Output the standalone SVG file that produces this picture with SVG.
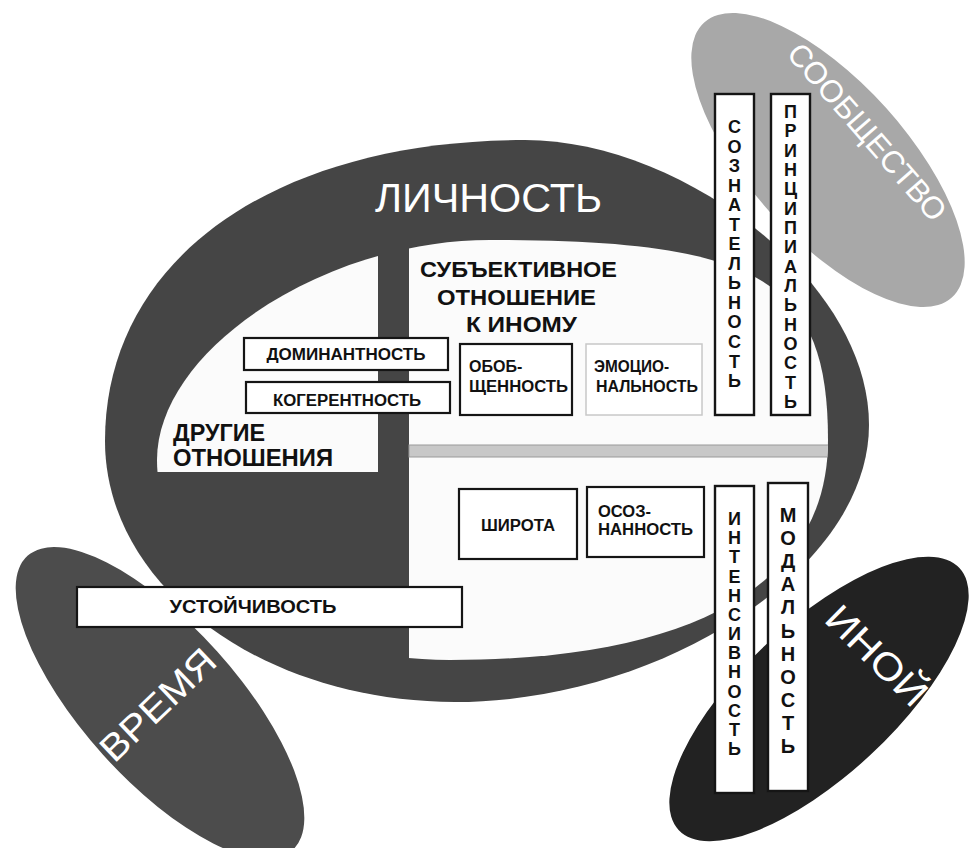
<svg xmlns="http://www.w3.org/2000/svg" width="971" height="848" viewBox="0 0 971 848">
<style>
  .lbl { font-family: "Liberation Sans", Arial, sans-serif; font-weight: bold; fill: #111; }
  .big { font-family: "Liberation Sans", Arial, sans-serif; fill: #ffffff; }
  .box { fill: #ffffff; stroke: #151515; stroke-width: 2.2; }
  .bar { fill: #ffffff; stroke: #151515; stroke-width: 2.4; }
  .vt { font-family: "Liberation Sans", Arial, sans-serif; font-weight: bold; fill: #111; text-anchor: middle; }
  .white { fill: #fbfbfb; }
</style>
<defs>
  <clipPath id="innerClip">
    <path d="M 157,460 C 157,350 323.5,240 490,240 C 760,240 828,280 828,440 C 828,583 696,660 450,660 C 289,660 157,570 157,460 Z"/>
  </clipPath>
</defs>
<rect width="971" height="848" fill="#ffffff"/>

<g id="soobshchestvo">
  <ellipse cx="828" cy="160" rx="185" ry="78" transform="rotate(48 828 160)" fill="#a8a8a8"/>
  <text class="big" font-size="31" text-anchor="middle" transform="translate(859,139) rotate(49)">СООБЩЕСТВО</text>
</g>

<g id="vremya">
  <ellipse cx="160" cy="703" rx="198" ry="77" transform="rotate(48 160 703)" fill="#4c4c4c"/>
  <text class="big" font-size="37" text-anchor="middle" textLength="145" lengthAdjust="spacingAndGlyphs" transform="translate(166.6,714) rotate(-43.7)">ВРЕМЯ</text>
</g>

<g id="lichnost">
  <path d="M 105,441 C 105,260 273,140 525,140 C 680,140 869,280 869,425 C 869,570 660,702 455,702 C 262,702 105,586 105,441 Z" fill="#454545"/>
  <text class="big" x="488.5" y="212" font-size="40" text-anchor="middle" textLength="227" lengthAdjust="spacingAndGlyphs">ЛИЧНОСТЬ</text>
</g>

<g id="drugie-otnosheniya">
  <rect class="white" x="0" y="0" width="378" height="472" clip-path="url(#innerClip)"/>
  <text class="lbl" x="173" y="441" font-size="23" textLength="92" lengthAdjust="spacingAndGlyphs">ДРУГИЕ</text>
  <text class="lbl" x="173" y="466" font-size="23" textLength="160" lengthAdjust="spacingAndGlyphs">ОТНОШЕНИЯ</text>
</g>

<g id="subektivnoe-otnoshenie">
  <rect class="white" x="409" y="0" width="562" height="848" clip-path="url(#innerClip)"/>
  <rect x="409" y="445" width="440" height="12" fill="#c8c8c8" stroke="#9a9a9a" stroke-width="1" clip-path="url(#innerClip)"/>
  <text class="lbl" x="518.5" y="277" font-size="22" text-anchor="middle" textLength="197" lengthAdjust="spacingAndGlyphs">СУБЪЕКТИВНОЕ</text>
  <text class="lbl" x="516.5" y="305" font-size="22" text-anchor="middle" textLength="159" lengthAdjust="spacingAndGlyphs">ОТНОШЕНИЕ</text>
  <text class="lbl" x="521.5" y="332" font-size="22" text-anchor="middle" textLength="111" lengthAdjust="spacingAndGlyphs">К ИНОМУ</text>
</g>

<g id="inoy">
  <ellipse cx="819" cy="699" rx="192" ry="76" transform="rotate(-43 819 699)" fill="#222222"/>
  <text class="big" font-size="38" text-anchor="middle" textLength="126" lengthAdjust="spacingAndGlyphs" transform="translate(867.5,665) rotate(44.6)">ИНОЙ</text>
</g>

<g id="dominantnost">
  <rect class="box" x="244" y="338" width="204" height="32"/>
  <text class="lbl" x="346" y="360" font-size="16" text-anchor="middle" textLength="159" lengthAdjust="spacingAndGlyphs">ДОМИНАНТНОСТЬ</text>
</g>
<g id="kogerentnost">
  <rect class="box" x="246" y="382" width="204" height="31"/>
  <text class="lbl" x="347" y="406" font-size="16" text-anchor="middle" textLength="148" lengthAdjust="spacingAndGlyphs">КОГЕРЕНТНОСТЬ</text>
</g>
<g id="obobshchennost">
  <rect class="box" x="460" y="344" width="112" height="71"/>
  <text class="lbl" x="469" y="372" font-size="16">ОБОБ-</text>
  <text class="lbl" x="469" y="392" font-size="16" textLength="99" lengthAdjust="spacingAndGlyphs">ЩЕННОСТЬ</text>
</g>
<g id="emotsionalnost">
  <rect x="586" y="344" width="116" height="71" fill="#ffffff" stroke="#c8c8c8" stroke-width="1.5"/>
  <text class="lbl" x="594" y="372" font-size="16" textLength="75" lengthAdjust="spacingAndGlyphs">ЭМОЦИО-</text>
  <text class="lbl" x="596" y="392" font-size="16" textLength="102" lengthAdjust="spacingAndGlyphs">НАЛЬНОСТЬ</text>
</g>
<g id="shirota">
  <rect class="box" x="459" y="489" width="118" height="70"/>
  <text class="lbl" x="518" y="531" font-size="16" text-anchor="middle" textLength="74" lengthAdjust="spacingAndGlyphs">ШИРОТА</text>
</g>
<g id="osoznannost">
  <rect class="box" x="587" y="487" width="117" height="70"/>
  <text class="lbl" x="598" y="517" font-size="16" textLength="53" lengthAdjust="spacingAndGlyphs">ОСОЗ-</text>
  <text class="lbl" x="598" y="535" font-size="16" textLength="95" lengthAdjust="spacingAndGlyphs">НАННОСТЬ</text>
</g>
<g id="ustoychivost">
  <rect class="box" x="77" y="587" width="385" height="40"/>
  <text class="lbl" x="253" y="613" font-size="18" text-anchor="middle" textLength="167" lengthAdjust="spacingAndGlyphs">УСТОЙЧИВОСТЬ</text>
</g>

<g id="soznatelnost">
  <rect class="bar" x="715" y="94" width="39" height="321"/>
  <text class="vt" font-size="18" x="734.5 734.5 734.5 734.5 734.5 734.5 734.5 734.5 734.5 734.5 734.5 734.5 734.5 734.5" y="133 152.5 172.1 191.6 211.2 230.7 250.2 269.8 289.3 308.9 328.4 347.9 367.5 387">СОЗНАТЕЛЬНОСТЬ</text>
</g>
<g id="printsipialnost">
  <rect class="bar" x="771" y="94" width="39" height="321"/>
  <text class="vt" font-size="18" x="790.5 790.5 790.5 790.5 790.5 790.5 790.5 790.5 790.5 790.5 790.5 790.5 790.5 790.5 790.5 790.5" y="118 137.3 156.7 176 195.3 214.7 234 253.3 272.6 292 311.3 330.6 350 369.3 388.6 408">ПРИНЦИПИАЛЬНОСТЬ</text>
</g>
<g id="intensivnost">
  <rect class="bar" x="715" y="486" width="39" height="307"/>
  <text class="vt" font-size="18" x="734.5 734.5 734.5 734.5 734.5 734.5 734.5 734.5 734.5 734.5 734.5 734.5 734.5" y="525 544.2 563.3 582.5 601.7 620.8 640 659.2 678.3 697.5 716.7 735.8 755">ИНТЕНСИВНОСТЬ</text>
</g>
<g id="modalnost">
  <rect class="bar" x="768" y="483" width="40" height="308"/>
  <text class="vt" font-size="20" x="788 788 788 788 788 788 788 788 788 788 788" y="522 545.1 568.2 591.3 614.4 637.5 660.6 683.7 706.8 729.9 753">МОДАЛЬНОСТЬ</text>
</g>

<g id="connectors"></g>
</svg>
